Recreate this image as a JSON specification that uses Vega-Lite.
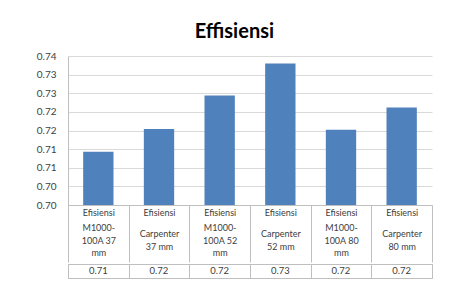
{
  "$schema": "https://vega.github.io/schema/vega-lite/v6.json",
  "padding": {"left": 36, "top": 22, "right": 10, "bottom": 8},
  "background": "white",
  "title": {"text": "Effisiensi", "fontSize": 20, "font": "Lato", "fontWeight": "bold", "color": "#000000", "anchor": "middle", "offset": 9},
  "config": {"font": "Lato", "view": {"stroke": null}},
  "data": {"values": [
    {"category": "M1000-100A 37 mm", "value": 0.7143, "shown": "0.71"},
    {"category": "Carpenter 37 mm", "value": 0.7204, "shown": "0.72"},
    {"category": "M1000-100A 52 mm", "value": 0.7294, "shown": "0.72"},
    {"category": "Carpenter 52 mm", "value": 0.7380, "shown": "0.73"},
    {"category": "M1000-100A 80 mm", "value": 0.7202, "shown": "0.72"},
    {"category": "Carpenter 80 mm", "value": 0.7262, "shown": "0.72"}
  ]},
  "spacing": 0,
  "vconcat": [
    {
      "width": 364,
      "height": 149,
      "mark": {"type": "bar", "color": "#4f81bd", "width": {"band": 0.5}, "clip": true},
      "encoding": {
        "x": {
          "field": "category", "type": "nominal", "sort": null,
          "scale": {"paddingInner": 0, "paddingOuter": 0},
          "axis": {
            "title": null, "orient": "bottom", "tickBand": "extent", "tickSize": 57,
            "tickColor": "#bfbfbf", "domainColor": "#bfbfbf",
            "labelPadding": -54, "labelBaseline": "top", "labelLineHeight": 3.125,
            "labelAngle": 0, "labelAlign": "center", "labelFontSize": 9, "labelColor": "#404040",
            "labelOverlap": false,
            "labelExpr": "!isString(datum.value) ? '' : indexof(datum.value,'Carpenter')==0 ? ['Efisiensi','\u200b','\u200b','\u200b','\u200b','\u200b','\u200b','Carpenter','\u200b','\u200b','\u200b',substring(datum.value,10)] : ['Efisiensi','\u200b','\u200b','\u200b','\u200b','M1000-','\u200b','\u200b','\u200b','100A ' + substring(datum.value,11,13),'\u200b','\u200b','\u200b','mm']"
          }
        },
        "y": {
          "field": "value", "type": "quantitative",
          "scale": {"domain": [0.70, 0.74], "nice": false, "zero": false},
          "axis": {
            "title": null, "values": [0.70, 0.705, 0.71, 0.715, 0.72, 0.725, 0.73, 0.735, 0.74],
            "labelExpr": "format(floor(datum.value*100+0.000001)/100, '.2f')",
            "ticks": false, "labelPadding": 12, "domainColor": "#bfbfbf", "gridColor": "#d9d9d9",
            "labelFontSize": 10, "labelColor": "#404040"
          }
        }
      }
    },
    {
      "width": 364,
      "height": 14,
      "view": {"stroke": "#bfbfbf"},
      "mark": {"type": "text", "fontSize": 9.5, "color": "#404040", "font": "Lato"},
      "encoding": {
        "x": {
          "field": "category", "type": "nominal", "sort": null,
          "scale": {"paddingInner": 0, "paddingOuter": 0},
          "axis": {"title": null, "labels": false, "ticks": false, "domain": false, "grid": true, "tickBand": "extent", "gridColor": "#bfbfbf"}
        },
        "text": {"field": "shown"}
      }
    }
  ]
}
